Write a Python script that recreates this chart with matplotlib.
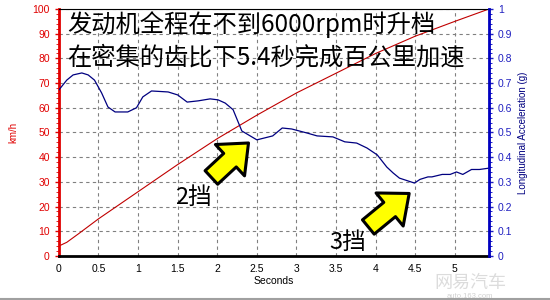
import numpy as np
import matplotlib.pyplot as plt
from matplotlib.patches import FancyArrowPatch
from matplotlib.ticker import MultipleLocator, FuncFormatter

plt.rcParams['font.family'] = ['Liberation Sans', 'Noto Sans CJK SC', 'DejaVu Sans']

# speed curve (km/h)
speed_t = [0, 0.1, 0.25, 0.5, 1.0, 1.5, 2.0, 2.5, 3.0, 3.5, 4.0, 4.5, 5.0, 5.43]
speed_v = [4, 5.5, 9, 15, 26, 37, 47.5, 57, 66, 74, 82, 89, 95, 100]

# longitudinal acceleration (g)
acc_t = [0, 0.1, 0.18, 0.29, 0.37, 0.45, 0.54, 0.62, 0.71, 0.87, 0.98, 1.06, 1.17, 1.38,
         1.5, 1.62, 1.76, 1.91, 2.01, 2.1, 2.2, 2.31, 2.5, 2.7, 2.82, 2.94, 3.13, 3.26,
         3.46, 3.61, 3.76, 3.89, 4.02, 4.14, 4.22, 4.3, 4.49, 4.56, 4.66, 4.71, 4.84,
         4.94, 5.02, 5.1, 5.21, 5.31, 5.42]
acc_g = [0.672, 0.712, 0.733, 0.741, 0.733, 0.712, 0.66, 0.603, 0.583, 0.583, 0.60, 0.644, 0.668, 0.664,
         0.652, 0.623, 0.628, 0.636, 0.632, 0.619, 0.592, 0.506, 0.47, 0.486, 0.518, 0.514, 0.498, 0.486,
         0.482, 0.462, 0.457, 0.437, 0.409, 0.36, 0.336, 0.315, 0.295, 0.31, 0.32, 0.32, 0.33,
         0.33, 0.34, 0.33, 0.35, 0.35, 0.355]

title_lines = ["发动机全程在不到6000rpm时升档", "在密集的齿比下5.4秒完成百公里加速"]
gear_labels = ["2挡", "3挡"]

fig = plt.figure(figsize=(5.5, 3), dpi=100)
ax = fig.add_axes([0.107, 0.147, 0.782, 0.823])
ax2 = ax.twinx()

ax.plot(speed_t, speed_v, c='#c00000', lw=0.8)
ax2.plot(acc_t, acc_g, c='#000080', lw=0.9)

ax.set_xlim(0, 5.43)
ax.set_ylim(0, 100)
ax2.set_ylim(0, 1)
ax.xaxis.set_major_locator(MultipleLocator(0.5))
ax.yaxis.set_major_locator(MultipleLocator(10))
ax.yaxis.set_minor_locator(MultipleLocator(2))
ax2.yaxis.set_major_locator(MultipleLocator(0.1))
ax2.yaxis.set_minor_locator(MultipleLocator(0.02))
ax.xaxis.set_major_formatter(FuncFormatter(lambda v, p: f"{v:g}"))
ax2.yaxis.set_major_formatter(FuncFormatter(lambda v, p: f"{v:.1f}".rstrip('0').rstrip('.') if v > 0 else "0"))

ax.grid(True, ls=(0, (3, 3)), c='#808080', lw=0.8)

ax.spines['left'].set_color('#e00000')
ax.spines['left'].set_linewidth(2)
ax.spines['bottom'].set_linewidth(2)
ax.spines['top'].set_linewidth(0.8)
ax2.spines['right'].set_color('#0000c0')
ax2.spines['right'].set_linewidth(2)
ax2.spines['left'].set_visible(False)
ax2.spines['top'].set_visible(False)
ax2.spines['bottom'].set_visible(False)

ax.tick_params(axis='y', colors='#e00000', labelsize=7.5, length=3, width=1)
ax.tick_params(axis='y', which='minor', colors='#e00000', length=2)
ax.tick_params(axis='x', labelsize=7.5, length=0, pad=6)
ax2.tick_params(axis='y', colors='#2020c0', labelsize=7.5, length=3, width=1)
ax2.tick_params(axis='y', which='minor', colors='#0000c0', length=2)

ax.set_ylabel("km/h", color='#e00000', fontsize=7, labelpad=10)
ax2.set_ylabel("Longitudinal Acceleration (g)", color='#000080', fontsize=7, labelpad=4)
ax.set_xlabel("Seconds", fontsize=7.5, labelpad=1)

cjk = ['Noto Sans CJK SC', 'DejaVu Sans']
ax.text(0.11, 93.5, title_lines[0], fontsize=17.5, va='center', ha='left', family=cjk)
ax.text(0.11, 80.5, title_lines[1], fontsize=17.5, va='center', ha='left', family=cjk)
ax.text(1.47, 23.5, gear_labels[0], fontsize=17, va='center', ha='left', family=cjk)
ax.text(3.42, 5.5, gear_labels[1], fontsize=17, va='center', ha='left', family=cjk)

for tail, head in [((1.9, 31.0), (2.42, 46.5)), ((3.88, 11.0), (4.45, 26.0))]:
    arr = FancyArrowPatch(tail, head, arrowstyle='simple,head_width=2.2,head_length=1.3,tail_width=0.95',
                          mutation_scale=14, fc='#ffff00', ec='black', lw=2.2, zorder=5)
    ax.add_patch(arr)

fig.text(0.855, 0.057, "网易汽车", fontsize=13, color='#dcdcdc', ha='center', va='center',
         family=cjk, zorder=0)
fig.text(0.855, 0.012, "auto.163.com", fontsize=5.5, color='#d0d0d0', ha='center', va='center')

fig.add_artist(plt.Line2D([0, 1], [0.004, 0.004], color='#a0a0a0', lw=1.5))

plt.savefig("out.png")
